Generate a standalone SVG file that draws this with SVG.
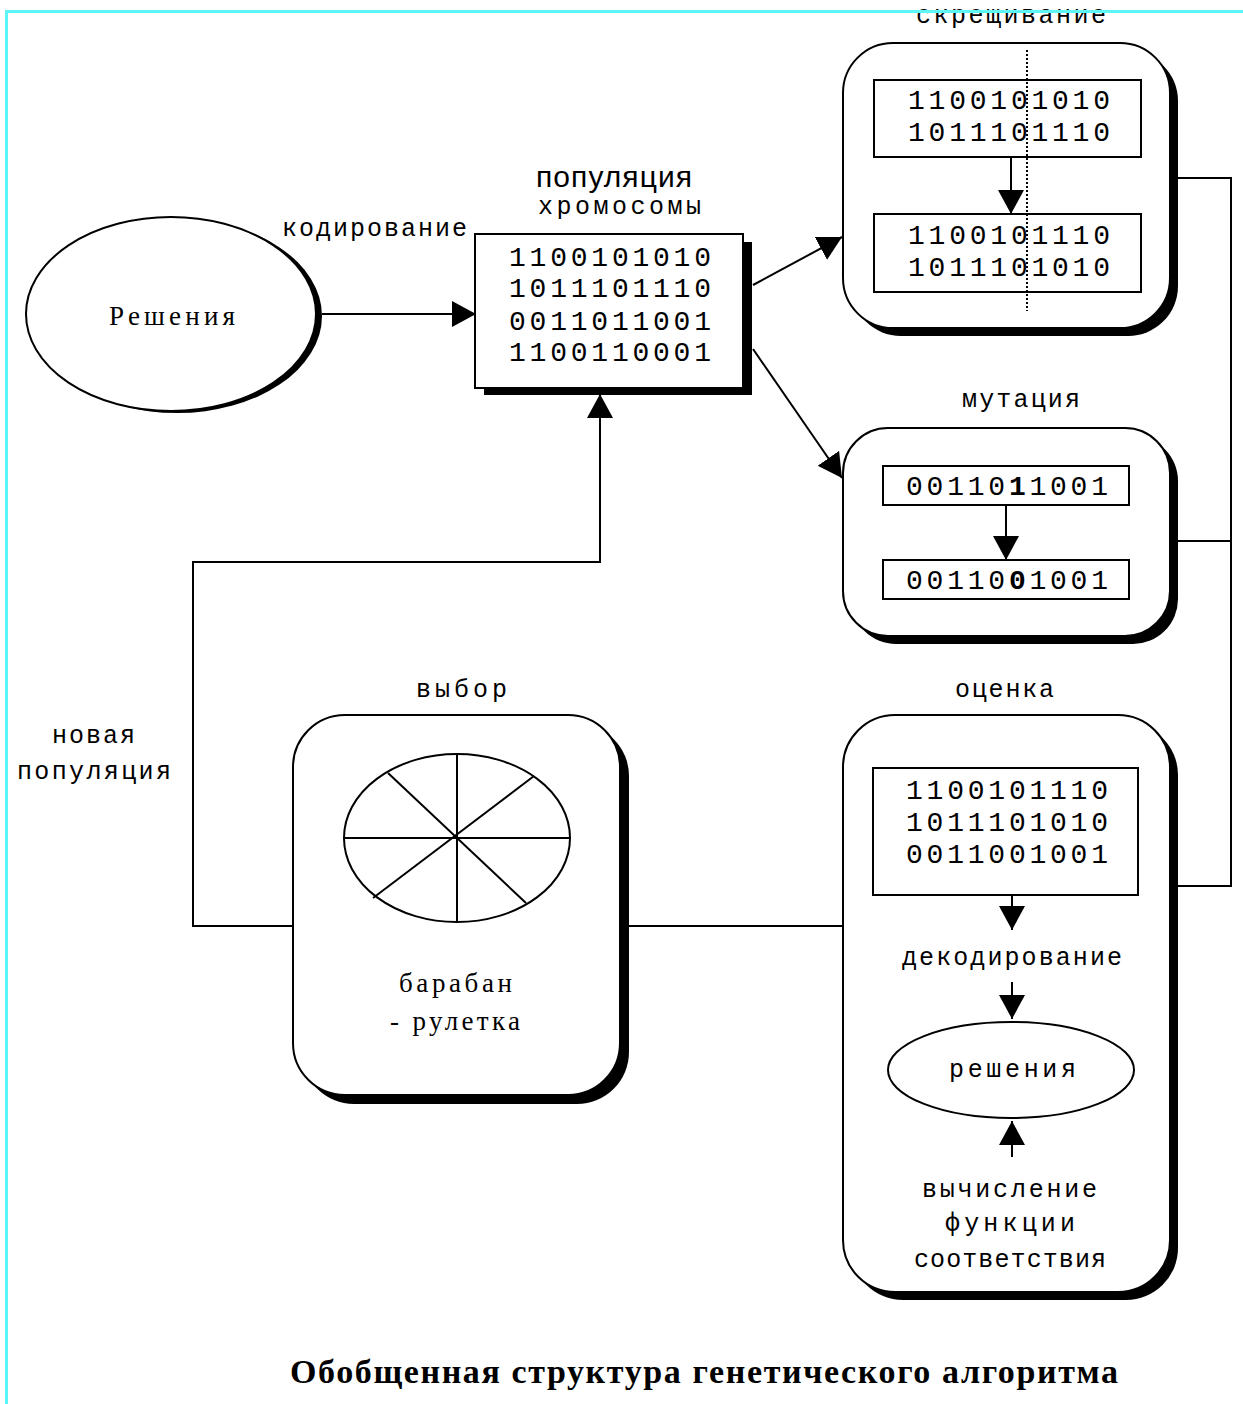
<svg xmlns="http://www.w3.org/2000/svg" width="1243" height="1404" viewBox="0 0 1243 1404">
<style>
.mono{font-family:"Liberation Mono","DejaVu Sans Mono",monospace;fill:#000}
.bits{font-size:28px}
.lbl{font-size:25px}
.serif{font-family:"Liberation Serif","DejaVu Serif",serif;fill:#000}
.sans{font-family:"Liberation Sans",Arial,sans-serif;fill:#000}
.box{fill:#fff;stroke:#000;stroke-width:2}
.shadow{fill:#000}
.line{fill:none;stroke:#000;stroke-width:2}
.arr{fill:none;stroke:#000;stroke-width:2;marker-end:url(#ah)}
.border{fill:#5cf6f6}
</style>
<defs>
<marker id="ah" markerUnits="userSpaceOnUse" markerWidth="26" markerHeight="28" refX="24" refY="13" orient="auto">
<path d="M0,0 L24,13 L0,26 z" fill="#000"/>
</marker>
</defs>
<rect width="1243" height="1404" fill="#fff"/>

<g id="connectors">
<line class="arr" x1="322" y1="314" x2="476" y2="314"/>
<line class="arr" x1="753" y1="285" x2="842" y2="237"/>
<line class="arr" x1="753" y1="349" x2="842" y2="478"/>
<polyline class="arr" points="293,926 193,926 193,562 600,562 600,394"/>
<line class="line" x1="628" y1="926" x2="843" y2="926"/>
<polyline class="line" points="1176,178 1231,178 1231,886 1176,886"/>
<line class="line" x1="1176" y1="541" x2="1231" y2="541"/>
</g>

<g id="node-solutions">
<ellipse class="shadow" cx="177" cy="316" rx="145" ry="97"/>
<ellipse class="box" cx="171" cy="314" rx="145" ry="97" stroke-width="1.5"/>
<text class="serif" x="109" y="325" font-size="27" textLength="126">Решения</text>
</g>

<g id="label-coding">
<text class="mono lbl" x="282" y="236" textLength="185">кодирование</text>
</g>

<g id="node-population">
<text class="sans" x="536" y="187" font-size="30" textLength="156">популяция</text>
<text class="mono lbl" x="538" y="214" textLength="163">хромосомы</text>
<rect class="shadow" x="484" y="242" width="268" height="153"/>
<rect class="box" x="475" y="234" width="268" height="154"/>
<text class="mono bits" x="509" y="266" textLength="202">1100101010</text>
<text class="mono bits" x="509" y="297" textLength="202">1011101110</text>
<text class="mono bits" x="509" y="330" textLength="202">0011011001</text>
<text class="mono bits" x="509" y="361" textLength="202">1100110001</text>
</g>

<g id="node-crossover">
<text class="mono lbl" x="916" y="23" textLength="190">скрещивание</text>
<rect class="shadow" x="851" y="51" width="327" height="285" rx="50"/>
<rect class="box" x="843" y="43" width="327" height="285" rx="50"/>
<rect class="box" x="874" y="80" width="267" height="77"/>
<text class="mono bits" x="908" y="109" textLength="202">1100101010</text>
<text class="mono bits" x="908" y="141" textLength="202">1011101110</text>
<line class="arr" x1="1011" y1="157" x2="1011" y2="214"/>
<rect class="box" x="874" y="214" width="267" height="78"/>
<text class="mono bits" x="908" y="244" textLength="202">1100101110</text>
<text class="mono bits" x="908" y="276" textLength="202">1011101010</text>
<line x1="1027" y1="50" x2="1027" y2="311" stroke="#000" stroke-width="2" stroke-dasharray="2,2"/>
</g>

<g id="node-mutation">
<text class="mono lbl" x="962" y="407" textLength="118">мутация</text>
<rect class="shadow" x="851" y="436" width="327" height="208" rx="45"/>
<rect class="box" x="843" y="428" width="327" height="208" rx="45"/>
<rect class="box" x="883" y="466" width="246" height="39"/>
<text class="mono bits" x="906" y="495" textLength="202">00110<tspan font-weight="bold">1</tspan>1001</text>
<line class="arr" x1="1006" y1="505" x2="1006" y2="560"/>
<rect class="box" x="883" y="560" width="246" height="39"/>
<text class="mono bits" x="906" y="589" textLength="202">00110<tspan font-weight="bold">0</tspan>1001</text>
</g>

<g id="node-evaluation">
<text class="mono lbl" x="955" y="697" textLength="99">оценка</text>
<rect class="shadow" x="851" y="723" width="327" height="577" rx="52"/>
<rect class="box" x="843" y="715" width="327" height="577" rx="52"/>
<rect class="box" x="873" y="768" width="265" height="127"/>
<text class="mono bits" x="906" y="799" textLength="202">1100101110</text>
<text class="mono bits" x="906" y="831" textLength="202">1011101010</text>
<text class="mono bits" x="906" y="863" textLength="202">0011001001</text>
<line class="arr" x1="1012" y1="895" x2="1012" y2="930"/>
<text class="mono lbl" x="902" y="965" textLength="220">декодирование</text>
<line class="arr" x1="1012" y1="982" x2="1012" y2="1019"/>
<ellipse class="box" cx="1011" cy="1070" rx="123" ry="48" stroke-width="1.5"/>
<text class="mono lbl" x="949" y="1077" textLength="127">решения</text>
<line class="arr" x1="1012" y1="1157" x2="1012" y2="1121"/>
<text class="mono lbl" x="922" y="1197" textLength="175">вычисление</text>
<text class="mono lbl" x="945" y="1231" textLength="130">функции</text>
<text class="mono lbl" x="914" y="1267" textLength="192">соответствия</text>
</g>

<g id="node-selection">
<text class="mono lbl" x="416" y="697" textLength="91">выбор</text>
<rect class="shadow" x="302" y="724" width="327" height="380" rx="52"/>
<rect class="box" x="293" y="715" width="327" height="380" rx="52"/>
<ellipse cx="457" cy="838" rx="113" ry="84" fill="#fff" stroke="#000" stroke-width="2"/>
<line class="line" x1="457" y1="754" x2="457" y2="922"/>
<line class="line" x1="344" y1="838" x2="570" y2="838"/>
<line class="line" x1="388" y1="773" x2="526" y2="903"/>
<line class="line" x1="534" y1="776" x2="373" y2="898"/>
<text class="serif" x="399" y="992" font-size="27" textLength="113">барабан</text>
<text class="serif" x="390" y="1030" font-size="27" textLength="130">- рулетка</text>
</g>

<g id="label-new-population">
<text class="mono lbl" x="52" y="743" textLength="83">новая</text>
<text class="mono lbl" x="17" y="779" textLength="154">популяция</text>
</g>

<g id="title">
<text class="serif" x="290" y="1383" font-size="34" font-weight="bold" textLength="828">Обобщенная структура генетического алгоритма</text>
</g>

<g id="frame">
<rect class="border" x="5" y="10" width="1238" height="3"/>
<rect class="border" x="5" y="10" width="3" height="1394"/>
</g>
</svg>
